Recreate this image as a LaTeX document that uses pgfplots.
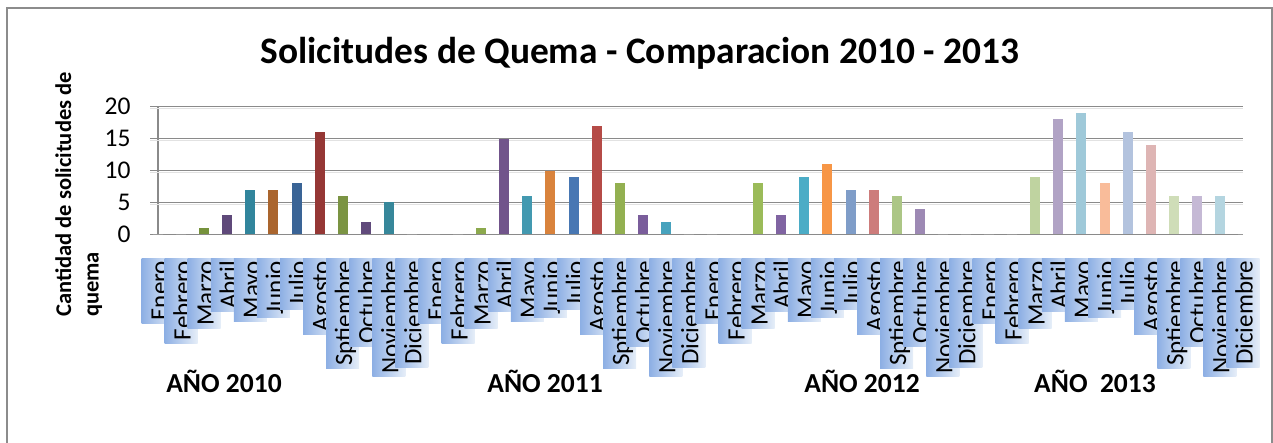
\documentclass[border=0pt]{standalone}
\usepackage{pgfplots}
\pgfplotsset{compat=1.18}
\usepackage{fontspec}
\setmainfont{Carlito}
\definecolor{gridgray}{HTML}{8A8A8A}
\definecolor{gridshadow}{HTML}{E2E2E2}
\definecolor{bordergray}{HTML}{8C8C8C}
\definecolor{lbdark}{HTML}{8DAFE4}
\definecolor{lblight}{HTML}{E6EEF8}
% 2010
\definecolor{c2}{HTML}{76923C}
\definecolor{c3}{HTML}{5F497A}
\definecolor{c4}{HTML}{31859C}
\definecolor{c5}{HTML}{AA652E}
\definecolor{c6}{HTML}{3A6496}
\definecolor{c7}{HTML}{953735}
\definecolor{c8}{HTML}{7B9443}
\definecolor{c9}{HTML}{604A7B}
\definecolor{c10}{HTML}{37879A}
% 2011
\definecolor{c14}{HTML}{8CA94D}
\definecolor{c15}{HTML}{71548B}
\definecolor{c16}{HTML}{4399B0}
\definecolor{c17}{HTML}{D9833C}
\definecolor{c18}{HTML}{4877B3}
\definecolor{c19}{HTML}{B54B47}
\definecolor{c20}{HTML}{93B051}
\definecolor{c21}{HTML}{7A5D9B}
\definecolor{c22}{HTML}{47A2BD}
% 2012
\definecolor{c26}{HTML}{9BBB59}
\definecolor{c27}{HTML}{8064A2}
\definecolor{c28}{HTML}{4BACC6}
\definecolor{c29}{HTML}{F79646}
\definecolor{c30}{HTML}{7F9DC8}
\definecolor{c31}{HTML}{CD7C7B}
\definecolor{c32}{HTML}{ACC686}
\definecolor{c33}{HTML}{9D89B4}
% 2013
\definecolor{c38}{HTML}{BFD3A0}
\definecolor{c39}{HTML}{B1A3C5}
\definecolor{c40}{HTML}{9FC9D9}
\definecolor{c41}{HTML}{F9BC9A}
\definecolor{c42}{HTML}{B3C3DE}
\definecolor{c43}{HTML}{DEB5B4}
\definecolor{c44}{HTML}{CFDDB8}
\definecolor{c45}{HTML}{C5B9D5}
\definecolor{c46}{HTML}{B4D5E0}
\definecolor{cz}{HTML}{FFFFFF}
\newcommand{\mybar}[3]{\addplot[fill=#3, draw=none, bar shift=0pt, bar width=10pt] coordinates {(#1,#2)};}
\begin{document}
\begin{tikzpicture}[x=1pt,y=1pt]
\useasboundingbox (0,0) rectangle (1273,-442);
\draw[bordergray, line width=1.5pt] (7,-460) -- (7,-8) -- (1272,-8) -- (1272,-460);
\node[font=\bfseries\fontsize{37.4}{44}\selectfont, anchor=base, inner sep=0] at (640,-63) {Solicitudes de Quema - Comparacion 2010 - 2013};
\node[rotate=90, anchor=north west, align=left, font=\bfseries\fontsize{22.5}{27.5}\selectfont, inner sep=0] at (55,-317) {Cantidad de solicitudes de\\quema};
\begin{axis}[
  at={(158pt,-234.3pt)}, anchor=south west,
  scale only axis, width=1085pt, height=127.6pt,
  xmin=0, xmax=47, ymin=0, ymax=20,
  ybar,
  axis x line=bottom, axis y line=left,
  axis line style={gridgray, line width=1.5pt, -},
  ytick={0,5,10,15,20},
  ymajorgrids, major grid style={gridgray, line width=1.5pt},
  tick align=outside, major tick length=8pt,
  major tick style={gridgray, line width=1.5pt},
  major x tick style={draw=none},
  /pgf/number format/assume math mode=true,
  yticklabel style={font=\fontsize{25.5}{30}\selectfont, black, xshift=-16pt},
  xtick={0,...,47},
  xticklabels={Enero,Febrero,Marzo,Abril,Mayo,Junio,Julio,Agosto,Sptiembre,Octubre,Noviembre,Diciembre,
               Enero,Febrero,Marzo,Abril,Mayo,Junio,Julio,Agosto,Sptiembre,Octubre,Noviembre,Diciembre,
               Enero,Febrero,Marzo,Abril,Mayo,Junio,Julio,Agosto,Sptiembre,Octubre,Noviembre,Diciembre,
               Enero,Febrero,Marzo,Abril,Mayo,Junio,Julio,Agosto,Sptiembre,Octubre,Noviembre,Diciembre},
  xticklabel style={rotate=90, anchor=east, font=\fontsize{25}{30}\selectfont,
     inner xsep=3pt, inner ysep=0pt, text height=26pt, text depth=7pt, outer sep=0pt,
     left color=lbdark, right color=lblight},
  xticklabel shift=15.7pt,
  clip=false,
]
% faint shadow under grid lines
\pgfplotsinvokeforeach{5,10,15,20}{\draw[gridshadow, line width=1.2pt] (axis cs:0,#1) ++(-8pt,-1.8pt) -- ([yshift=-1.8pt]axis cs:47,#1);}
% 2010
\mybar{0}{0}{cz}\mybar{1}{0}{cz}\mybar{2}{1}{c2}\mybar{3}{3}{c3}\mybar{4}{7}{c4}\mybar{5}{7}{c5}
\mybar{6}{8}{c6}\mybar{7}{16}{c7}\mybar{8}{6}{c8}\mybar{9}{2}{c9}\mybar{10}{5}{c10}\mybar{11}{0}{cz}
% 2011
\mybar{12}{0}{cz}\mybar{13}{0}{cz}\mybar{14}{1}{c14}\mybar{15}{15}{c15}\mybar{16}{6}{c16}\mybar{17}{10}{c17}
\mybar{18}{9}{c18}\mybar{19}{17}{c19}\mybar{20}{8}{c20}\mybar{21}{3}{c21}\mybar{22}{2}{c22}\mybar{23}{0}{cz}
% 2012
\mybar{24}{0}{cz}\mybar{25}{0}{cz}\mybar{26}{8}{c26}\mybar{27}{3}{c27}\mybar{28}{9}{c28}\mybar{29}{11}{c29}
\mybar{30}{7}{c30}\mybar{31}{7}{c31}\mybar{32}{6}{c32}\mybar{33}{4}{c33}\mybar{34}{0}{cz}\mybar{35}{0}{cz}
% 2013
\mybar{36}{0}{cz}\mybar{37}{0}{cz}\mybar{38}{9}{c38}\mybar{39}{18}{c39}\mybar{40}{19}{c40}\mybar{41}{8}{c41}
\mybar{42}{16}{c42}\mybar{43}{14}{c43}\mybar{44}{6}{c44}\mybar{45}{6}{c45}\mybar{46}{6}{c46}\mybar{47}{0}{cz}
\end{axis}
\begin{scope}[every node/.style={font=\bfseries\fontsize{27.5}{32}\selectfont, anchor=base, inner sep=0}]
\node at (224,-392) {AÑO 2010};
\node at (545,-392) {AÑO 2011};
\node at (862,-392) {AÑO 2012};
\node at (1095,-392) {AÑO\ \ 2013};
\end{scope}
\end{tikzpicture}
\end{document}
